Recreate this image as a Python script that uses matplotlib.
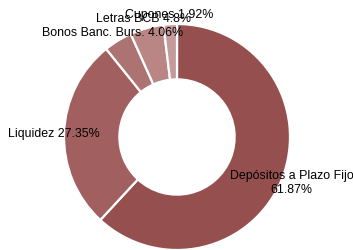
import numpy as np
import matplotlib
matplotlib.use('Agg')
import matplotlib.pyplot as plt

plt.rcParams['font.family'] = ['Liberation Sans', 'DejaVu Sans']

labels = ['Depósitos a Plazo Fijo\n61.87%', 'Liquidez 27.35%', 'Bonos Banc. Burs. 4.06%',
          'Letras BCB 4.8%', 'Cupones 1.92%']
values = [61.87, 27.35, 4.06, 4.8, 1.92]
colors = ['#964f4f', '#a15f5f', '#ad7272', '#b98585', '#c49a9a']

fig = plt.figure(figsize=[3.53, 2.51], dpi=100)
ax = fig.add_axes([64 / 353, 0.0, 226 / 353, 226 / 251])

wedges, texts = ax.pie(values, labels=labels, colors=colors, startangle=90, counterclock=False,
                       radius=1.0, labeldistance=1.09,
                       wedgeprops=dict(width=0.49, edgecolor='white', linewidth=1.6),
                       textprops=dict(fontsize=8.9, color='black'))
for t in texts:
    t.set_ha('center')
    t.set_va('center')
    t.set_multialignment('center')

ax.set_xlim(-1, 1)
ax.set_ylim(-1, 1)
ax.set_aspect('equal')
ax.axis('off')

fig.savefig('out.png', dpi=100)
